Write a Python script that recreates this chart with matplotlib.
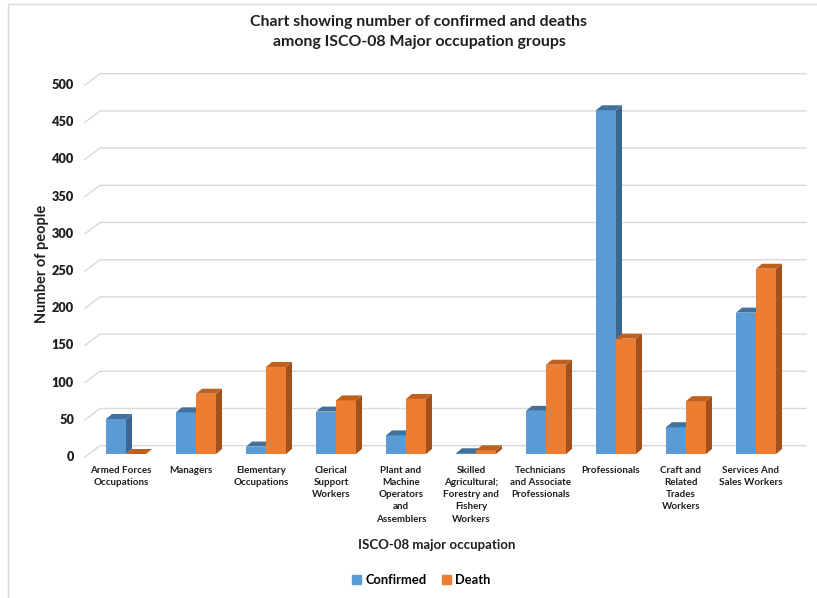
import matplotlib
matplotlib.use('Agg')
import matplotlib.pyplot as plt
from matplotlib.patches import Polygon, Rectangle, Patch

plt.rcParams['font.family'] = ['Lato', 'DejaVu Sans']

categories = ['Armed Forces\nOccupations', 'Managers', 'Elementary\nOccupations',
              'Clerical\nSupport\nWorkers', 'Plant and\nMachine\nOperators\nand\nAssemblers',
              'Skilled\nAgricultural;\nForestry and\nFishery\nWorkers',
              'Technicians\nand Associate\nProfessionals', 'Professionals',
              'Craft and\nRelated\nTrades\nWorkers', 'Services And\nSales Workers']
confirmed = [47, 56, 10, 57, 25, 1, 58, 462, 36, 190]
death = [0, 81, 117, 72, 74, 5, 120, 155, 71, 249]
yticks = [0, 50, 100, 150, 200, 250, 300, 350, 400, 450, 500]

W, H = 817, 598
fig = plt.figure(figsize=(W / 100, H / 100), dpi=100)

# axes box in pixels, and pixel scale of the data units
px_left, px_right, px_top, px_bot = 80, 810, 70, 470
px_per_x = 70.0
px_per_y = 0.744
x0_px, y0_px = 126, 454

ax = fig.add_axes([px_left / W, 1 - px_bot / H, (px_right - px_left) / W, (px_bot - px_top) / H])
ax.set_xlim((px_left - x0_px) / px_per_x, (px_right - x0_px) / px_per_x)
ax.set_ylim(-(px_bot - y0_px) / px_per_y, (y0_px - px_top) / px_per_y)
ax.axis('off')

# 3d depth of the bars and back wall
dx = 6 / px_per_x
dy = 5 / px_per_y
wall_dy = 8.3 / px_per_y
label_dy = -3 / px_per_y
grid_x0 = (100 - x0_px) / px_per_x
grid_x1 = (806 - x0_px) / px_per_x
slant_x = (85 - x0_px) / px_per_x
grid_col = '#D9D9D9'
txt_col = '#1F1F1F'

for v in yticks:
    ax.plot([slant_x, grid_x0, grid_x1], [v + label_dy, v + wall_dy, v + wall_dy],
            color=grid_col, lw=1, zorder=1, clip_on=False)
    ax.text((74 - x0_px) / px_per_x, v + label_dy, str(v), ha='right', va='center',
            fontsize=9.2, fontweight='heavy', color=txt_col, clip_on=False)

bw = 20 / px_per_x
series = [
    (confirmed, -bw / 2, '#5B9BD5', '#41719C', '#3A6690'),
    (death, bw / 2, '#ED7D31', '#C0601F', '#A3511C'),
]

z = 2
for i in range(len(categories)):
    for vals, off, front, top, side in series:
        h = vals[i]
        xl = i + off - bw / 2
        xr = xl + bw
        ax.bar(i + off, h, bw, color=front, zorder=z, linewidth=0)
        ax.add_patch(Polygon([(xr, 0), (xr + dx, dy), (xr + dx, h + dy), (xr, h)],
                             closed=True, color=side, zorder=z, linewidth=0))
        ax.add_patch(Polygon([(xl, h), (xr, h), (xr + dx, h + dy), (xl + dx, h + dy)],
                             closed=True, color=top, zorder=z, linewidth=0))
        z += 1

# category labels under each group
for i, name in enumerate(categories):
    ax.text(i - 5 / px_per_x, -(466 - y0_px) / px_per_y, name, ha='center', va='top',
            fontsize=7.1, fontweight='bold', color=txt_col, linespacing=1.45, clip_on=False)

fig.text(419 / W, 1 - 32 / H,
         'Chart showing number of confirmed and deaths\namong ISCO-08 Major occupation groups',
         ha='center', va='center', fontsize=11.4, fontweight='bold', color=txt_col, linespacing=1.5)
fig.text(437 / W, 1 - 545 / H, 'ISCO-08 major occupation', ha='center', va='center',
         fontsize=9.5, fontweight='bold', color=txt_col)
fig.text(42 / W, 1 - 264 / H, 'Number of people', ha='center', va='center', rotation=90,
         fontsize=10.5, fontweight='bold', color=txt_col)

handles = [Patch(color='#5B9BD5', label='Confirmed'), Patch(color='#ED7D31', label='Death')]
fig.legend(handles=handles, loc='center', bbox_to_anchor=(421 / W, 1 - 580 / H), ncol=2,
           frameon=False, prop={'size': 9.3, 'weight': 'bold'}, handlelength=0.7,
           handleheight=0.7, handletextpad=0.3, columnspacing=1.2)

# chart frame
fig.patches.append(Rectangle((8 / W, -0.1), 1.2, 1.1 - 4 / H, transform=fig.transFigure,
                             fill=False, edgecolor='#D9D9D9', lw=1))

fig.savefig('out.png', dpi=100)
